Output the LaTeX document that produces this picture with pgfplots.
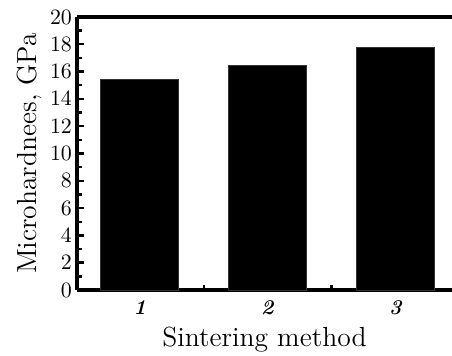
\documentclass[border=0pt]{standalone}
\usepackage{pgfplots}
\pgfplotsset{compat=1.18}
\begin{document}
\begin{tikzpicture}
\path[use as bounding box] (-38.5pt,-33pt) rectangle (187.5pt,145pt);
\begin{axis}[
  scale only axis,
  width=187.5pt, height=136.5pt,
  at={(0,0)}, anchor=south west,
  xmin=0.51, xmax=3.44,
  ymin=0, ymax=20,
  axis x line=box, axis y line=left,
  axis line style={line width=1.8pt, -},
  xtick={1,2,3},
  xticklabels={\textit{\textbf{1}},\textit{\textbf{2}},\textit{\textbf{3}}},
  minor xtick={1.5,2.5},
  ytick={0,2,...,20},
  minor ytick={1,3,...,19},
  xtick pos=bottom, ytick pos=left,
  tick align=inside,
  major tick length=3.5pt, minor tick length=2.5pt,
  tick style={line width=1.2pt, black},
  tick label style={font=\fontsize{10.5}{11}\selectfont},
  yticklabel style={xshift=1pt},
  xticklabel style={yshift=-2pt},
  xlabel={Sintering method},
  ylabel={Microhardnees, GPa},
  label style={font=\fontsize{13.8}{15}\selectfont},
  xlabel style={at={(axis description cs:0.5,0)}, anchor=north, yshift=-15pt},
  ylabel style={at={(axis description cs:0,0.5)}, anchor=south, yshift=14pt},
  clip=false,
]
\addplot[ybar, bar width=39pt, fill=black, draw=black!80, line width=0.3pt]
  coordinates {(1,15.45) (2,16.48) (3,17.8)};
\end{axis}
\end{tikzpicture}
\end{document}
